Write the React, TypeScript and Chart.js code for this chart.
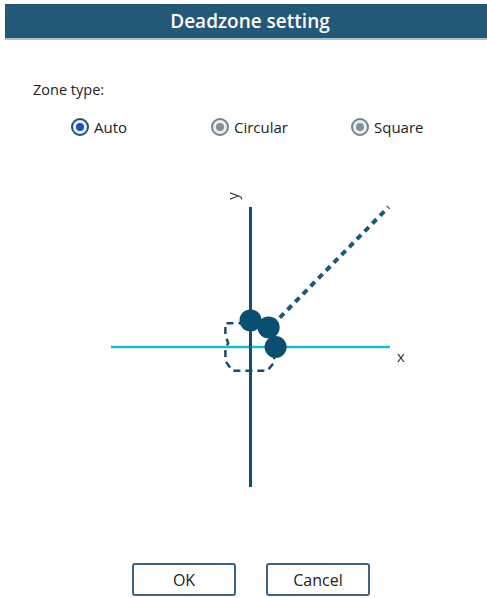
import React, { useEffect, useRef } from "react";
import { Chart, registerables } from "chart.js";

Chart.register(...registerables);

// Axis guide lines (x, y in normalized units)
const horizontalAxis = [
  { x: -1, y: 0 },
  { x: 1, y: 0 },
];
const verticalAxis = [
  { x: 0, y: -1 },
  { x: 0, y: 1 },
];
// Dashed direction line
const directionLine = [
  { x: 0.21, y: 0.21 },
  { x: 0.99, y: 1.0 },
];
// Dashed deadzone outline
const deadzoneOutline = [
  { x: 0.05, y: 0.17 },
  { x: -0.18, y: 0.17 },
  { x: -0.18, y: 0.08 },
  { x: -0.16, y: 0.03 },
  { x: -0.18, y: -0.02 },
  { x: -0.18, y: -0.1 },
  { x: -0.13, y: -0.17 },
  { x: 0.12, y: -0.17 },
  { x: 0.17, y: -0.11 },
  { x: 0.17, y: 0.12 },
  { x: 0.12, y: 0.17 },
  { x: 0.05, y: 0.17 },
];
// Sample points
const samplePoints = [
  { x: 0.0, y: 0.19 },
  { x: 0.13, y: 0.14 },
  { x: 0.18, y: 0.0 },
];
const axisLabels = ["x", "y"];
const zoneTypes = ["Auto", "Circular", "Square"];

const axisLetters = {
  id: "axisLetters",
  afterDraw(chart: any) {
    const { ctx, scales } = chart;
    const xs = scales.x;
    const ys = scales.y;
    ctx.save();
    ctx.fillStyle = "#333";
    ctx.font = "15px 'Open Sans'";
    ctx.textAlign = "left";
    ctx.textBaseline = "middle";
    ctx.fillText(axisLabels[0], xs.getPixelForValue(1) + 7, ys.getPixelForValue(0) + 11);
    ctx.translate(xs.getPixelForValue(0) - 17, ys.getPixelForValue(1) - 11);
    ctx.rotate(-Math.PI / 2);
    ctx.textAlign = "center";
    ctx.fillText(axisLabels[1], 0, 0);
    ctx.restore();
  },
};

function DeadzoneChart() {
  const ref = useRef<HTMLCanvasElement>(null);
  useEffect(() => {
    if (!ref.current) return;
    const chart = new Chart(ref.current, {
      type: "scatter",
      data: {
        datasets: [
          {
            data: samplePoints,
            showLine: false,
            pointRadius: 11,
            pointBackgroundColor: "#0b4f70",
            pointBorderColor: "#0b4f70",
            pointBorderWidth: 0,
            order: 0,
          } as any,
          {
            data: directionLine,
            showLine: true,
            borderColor: "#1d5878",
            borderWidth: 4,
            borderDash: [6, 5],
            pointRadius: 0,
            order: 1,
          },
          {
            data: deadzoneOutline,
            showLine: true,
            borderColor: "#1a4a68",
            borderWidth: 2.5,
            borderDash: [7, 5],
            pointRadius: 0,
            order: 2,
          },
          {
            data: verticalAxis,
            showLine: true,
            borderColor: "#114d6e",
            borderWidth: 3,
            pointRadius: 0,
            order: 3,
          },
          {
            data: horizontalAxis,
            showLine: true,
            borderColor: "#1bb9da",
            borderWidth: 2.5,
            pointRadius: 0,
            order: 4,
          },
        ],
      },
      options: {
        animation: false,
        responsive: false,
        maintainAspectRatio: false,
        layout: { padding: { left: 10, right: 20, top: 27, bottom: 13 } },
        plugins: { legend: { display: false }, tooltip: { enabled: false } },
        scales: {
          x: { type: "linear", min: -1, max: 1, display: false },
          y: { type: "linear", min: -1, max: 1, display: false },
        },
        clip: false as any,
      },
      plugins: [axisLetters],
    });
    return () => chart.destroy();
  }, []);
  return (
    <canvas
      ref={ref}
      width={310}
      height={320}
      style={{ position: "absolute", left: 100, top: 180, width: 310, height: 320 }}
    />
  );
}

function Radio({ label, checked, left }: { label: string; checked: boolean; left: number }) {
  return (
    <div style={{ position: "absolute", left: left - 9, top: 117, display: "flex", alignItems: "center" }}>
      <div
        style={{
          width: 14,
          height: 14,
          borderRadius: "50%",
          border: checked ? "2px solid #2a4f70" : "2px solid #6f8594",
          background: "#e9eef2",
          display: "flex",
          alignItems: "center",
          justifyContent: "center",
        }}
      >
        <div
          style={{
            width: 8,
            height: 8,
            borderRadius: "50%",
            background: checked ? "#1453c4" : "#8a8f94",
          }}
        />
      </div>
      <span style={{ marginLeft: 5, fontSize: 15, color: "#222", lineHeight: "20px" }}>{label}</span>
    </div>
  );
}

const buttonStyle: React.CSSProperties = {
  position: "absolute",
  top: 563,
  width: 104,
  height: 33,
  border: "2px solid #3d6380",
  borderRadius: 3,
  background: "#fff",
  fontFamily: "'Open Sans', sans-serif",
  fontSize: 16,
  color: "#222",
  padding: 0,
};

export default function App() {
  return (
    <div
      style={{
        position: "absolute",
        left: 0,
        top: 0,
        width: 487,
        height: 598,
        background: "#fff",
        fontFamily: "'Open Sans', 'Noto Sans', sans-serif",
        overflow: "hidden",
      }}
    >
      <div
        style={{
          position: "absolute",
          left: 5,
          top: 4,
          width: 482,
          height: 36,
          background: "#245877",
          borderBottom: "2px solid #aac2d2",
          color: "#fff",
          fontSize: 19,
          fontWeight: 600,
          display: "flex",
          alignItems: "center",
          justifyContent: "center",
          boxSizing: "border-box",
          paddingLeft: 8,
        }}
      >
        Deadzone setting
      </div>
      <div style={{ position: "absolute", left: 33, top: 80, fontSize: 14.5, color: "#222" }}>Zone type:</div>
      <Radio label={zoneTypes[0]} checked={true} left={80} />
      <Radio label={zoneTypes[1]} checked={false} left={220} />
      <Radio label={zoneTypes[2]} checked={false} left={360} />
      <DeadzoneChart />
      <button style={{ ...buttonStyle, left: 132 }}>OK</button>
      <button style={{ ...buttonStyle, left: 266 }}>Cancel</button>
    </div>
  );
}
